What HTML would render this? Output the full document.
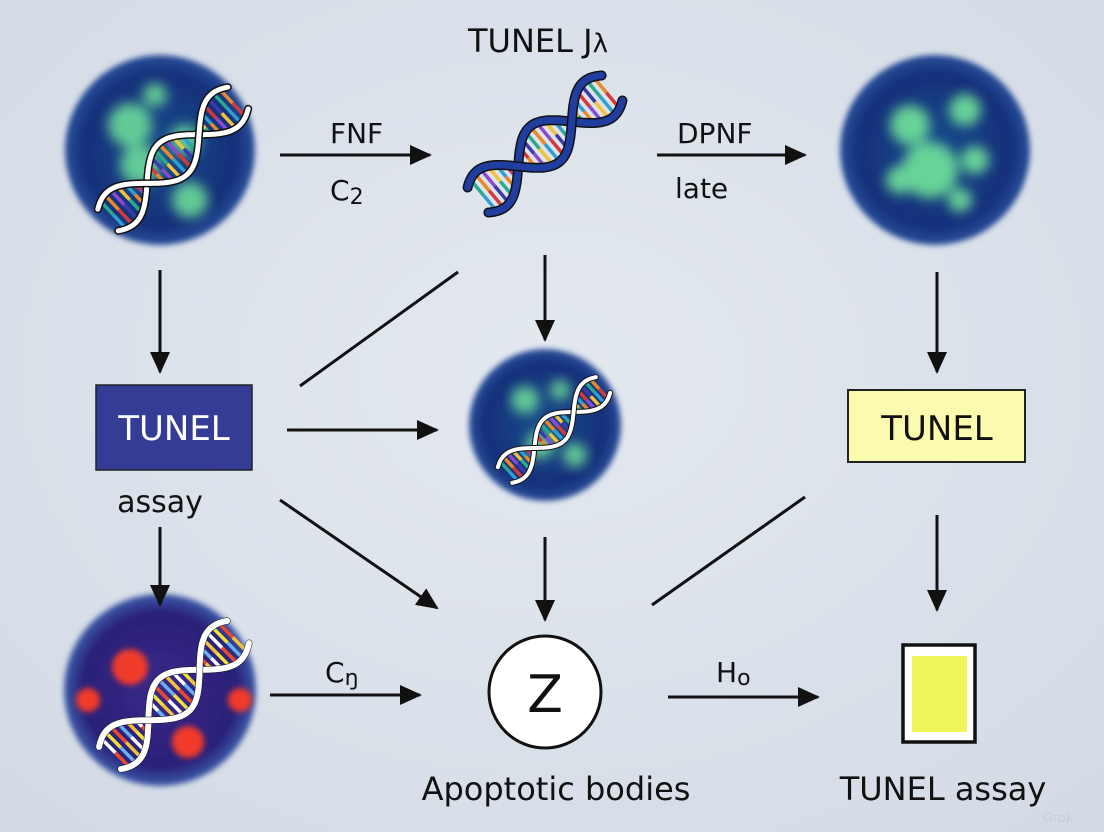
<!DOCTYPE html>
<html><head><meta charset="utf-8"><style>
html,body{margin:0;padding:0;background:#dde3eb;}
svg{display:block;}
text{font-family:"DejaVu Sans","Liberation Sans",sans-serif;fill:#111;}
</style></head><body>
<svg id="s" width="1104" height="832" viewBox="0 0 1104 832" xmlns="http://www.w3.org/2000/svg">
<defs>
<radialGradient id="bg" cx="50%" cy="45%" r="75%"><stop offset="0" stop-color="#e4e9f0"/><stop offset="1" stop-color="#d3dae4"/></radialGradient>
<radialGradient id="cellB" cx="50%" cy="50%" r="50%"><stop offset="0" stop-color="#1a4c8c"/><stop offset="0.8" stop-color="#14307a"/><stop offset="1" stop-color="#2a4f9a"/></radialGradient>
<radialGradient id="cellP" cx="50%" cy="50%" r="50%"><stop offset="0" stop-color="#3a2a8a"/><stop offset="0.8" stop-color="#2a1f78"/><stop offset="1" stop-color="#3a5aa8"/></radialGradient>
<filter id="blur"><feGaussianBlur stdDeviation="6"/></filter>
<filter id="blur2"><feGaussianBlur stdDeviation="3"/></filter>
<marker id="ah" markerWidth="22" markerHeight="20" refX="20" refY="10" orient="auto" markerUnits="userSpaceOnUse" viewBox="0 0 22 20"><path d="M0,0 L22,10 L0,20 z" fill="#111"/></marker>
</defs>
<rect width="1104" height="832" fill="url(#bg)"/>

<g>
<circle cx="160" cy="150" r="95" fill="url(#cellB)" filter="url(#blur2)"/>
<g filter="url(#blur)" fill="#6fe39a" opacity="0.85">
<circle cx="130" cy="125" r="22"/><circle cx="155" cy="95" r="12"/><circle cx="140" cy="165" r="20"/><circle cx="190" cy="200" r="18"/><circle cx="185" cy="140" r="15"/>
</g>
<circle cx="935" cy="150" r="95" fill="url(#cellB)" filter="url(#blur2)"/>
<g filter="url(#blur)" fill="#6fe39a" opacity="0.9">
<circle cx="910" cy="125" r="20"/><circle cx="965" cy="110" r="16"/><circle cx="930" cy="170" r="28"/><circle cx="975" cy="160" r="14"/><circle cx="900" cy="180" r="14"/><circle cx="960" cy="200" r="12"/>
</g>
<circle cx="545" cy="425" r="76" fill="url(#cellB)" filter="url(#blur2)"/>
<g filter="url(#blur)" fill="#6fe39a" opacity="0.85">
<circle cx="525" cy="400" r="14"/><circle cx="560" cy="390" r="10"/><circle cx="540" cy="445" r="14"/><circle cx="575" cy="455" r="12"/>
</g>
<circle cx="160" cy="690" r="96" fill="url(#cellP)" filter="url(#blur2)"/>
<g filter="url(#blur2)" fill="#f03a2a">
<circle cx="130" cy="667" r="18"/><circle cx="88" cy="700" r="12"/><circle cx="240" cy="700" r="12"/><circle cx="188" cy="742" r="16"/>
</g>
</g>

<g id="helices"></g>

<g stroke="#111" stroke-width="3" fill="none">
<line x1="280" y1="155" x2="430" y2="155" marker-end="url(#ah)"/>
<line x1="657" y1="155" x2="805" y2="155" marker-end="url(#ah)"/>
<line x1="160" y1="270" x2="160" y2="372" marker-end="url(#ah)"/>
<line x1="545" y1="255" x2="545" y2="340" marker-end="url(#ah)"/>
<line x1="937" y1="272" x2="937" y2="372" marker-end="url(#ah)"/>
<line x1="287" y1="430" x2="437" y2="430" marker-end="url(#ah)"/>
<line x1="160" y1="527" x2="160" y2="605" marker-end="url(#ah)"/>
<line x1="280" y1="500" x2="437" y2="608" marker-end="url(#ah)"/>
<line x1="545" y1="537" x2="545" y2="620" marker-end="url(#ah)"/>
<line x1="937" y1="515" x2="937" y2="610" marker-end="url(#ah)"/>
<line x1="270" y1="695" x2="420" y2="695" marker-end="url(#ah)"/>
<line x1="668" y1="697" x2="818" y2="697" marker-end="url(#ah)"/>
<line x1="458" y1="272" x2="300" y2="386"/>
<line x1="805" y1="497" x2="652" y2="605"/>
</g>

<rect x="96" y="385" width="156" height="85" fill="#343c96" stroke="#222" stroke-width="1.5"/>
<text x="174" y="440" font-size="34" text-anchor="middle" style="fill:#fff">TUNEL</text>
<rect x="848" y="390" width="177" height="72" fill="#fbfbb0" stroke="#222" stroke-width="2"/>
<text x="937" y="440" font-size="34" text-anchor="middle">TUNEL</text>
<circle cx="545" cy="692" r="56" fill="#fff" stroke="#111" stroke-width="3"/>
<text x="545" y="712" font-size="52" text-anchor="middle">Z</text>
<rect x="903" y="645" width="72" height="97" fill="#fff" stroke="#111" stroke-width="3.5"/>
<rect x="912" y="656" width="55" height="76" fill="#f1f55c"/>

<text x="468" y="52" font-size="32">TUNEL J<tspan font-size="26">λ</tspan></text>
<text x="330" y="143" font-size="28">FNF</text>
<text x="330" y="200" font-size="28">C<tspan font-size="22" dy="4">2</tspan></text>
<text x="677" y="143" font-size="28">DPNF</text>
<text x="675" y="198" font-size="28">late</text>
<text x="160" y="512" font-size="30" text-anchor="middle">assay</text>
<text x="325" y="682" font-size="28">C<tspan font-size="22" dy="3">ŋ</tspan></text>
<text x="716" y="682" font-size="28">H<tspan font-size="22" dy="3">o</tspan></text>
<text x="556" y="800" font-size="32" text-anchor="middle">Apoptotic bodies</text>
<text x="943" y="800" font-size="32" text-anchor="middle">TUNEL assay</text>
<text x="1058" y="822" font-size="13" style="fill:#c8ced8" text-anchor="middle">Grok</text>
</svg>
<script>
function helix(x1,y1,x2,y2,amp,sc,sw,ow,cols){
 var g=document.getElementById('helices'),ns='http://www.w3.org/2000/svg';
 var dx=x2-x1,dy=y2-y1,L=Math.hypot(dx,dy),ux=dx/L,uy=dy/L,px=-uy,py=ux;
 var turns=1.25,N=100,ph0=Math.PI/4;
 function pt(t,ph){var s=t*L,o=amp*Math.sin(t*turns*2*Math.PI+ph0+ph);return [x1+ux*s+px*o,y1+uy*s+py*o];}
 for(var k=1;k<24;k++){var t=k/24,A=pt(t,0),B=pt(t,Math.PI);
  if(Math.abs(Math.sin(t*turns*2*Math.PI+ph0))<0.3)continue;
  var M=[(A[0]+B[0])/2,(A[1]+B[1])/2];
  [[A,cols[k%cols.length]],[B,cols[(k+3)%cols.length]]].forEach(function(e){var l=document.createElementNS(ns,'line');
  l.setAttribute('x1',e[0][0]);l.setAttribute('y1',e[0][1]);l.setAttribute('x2',M[0]);l.setAttribute('y2',M[1]);
  l.setAttribute('stroke',e[1]);l.setAttribute('stroke-width',3.5);g.appendChild(l);});}
 [0,Math.PI].forEach(function(ph){var d='';for(var i=0;i<=N;i++){var q=pt(i/N,ph);d+=(i?'L':'M')+q[0].toFixed(1)+','+q[1].toFixed(1);}
  [[ow,'#111'],[sw,sc]].forEach(function(s){var p=document.createElementNS(ns,'path');p.setAttribute('d',d);p.setAttribute('fill','none');
  p.setAttribute('stroke',s[1]);p.setAttribute('stroke-width',s[0]);p.setAttribute('stroke-linecap','round');g.appendChild(p);});});
}
var c1=['#f2c23a','#2f9fd0','#d33a3a','#3a3aa8','#2aa890','#e88a2a','#8a4ad0'];
helix(108,220,238,98,21,'#fff',5,8,c1);
helix(478,200,612,88,23,'#1f3ea0',7,10,c1);
helix(505,475,603,385,15,'#fff',4,6,c1);
helix(110,758,238,632,22,'#fff',6,7,['#f2e23a','#e84a2a','#6ab0f0','#f2c23a','#fff']);
</script>
</body></html>
